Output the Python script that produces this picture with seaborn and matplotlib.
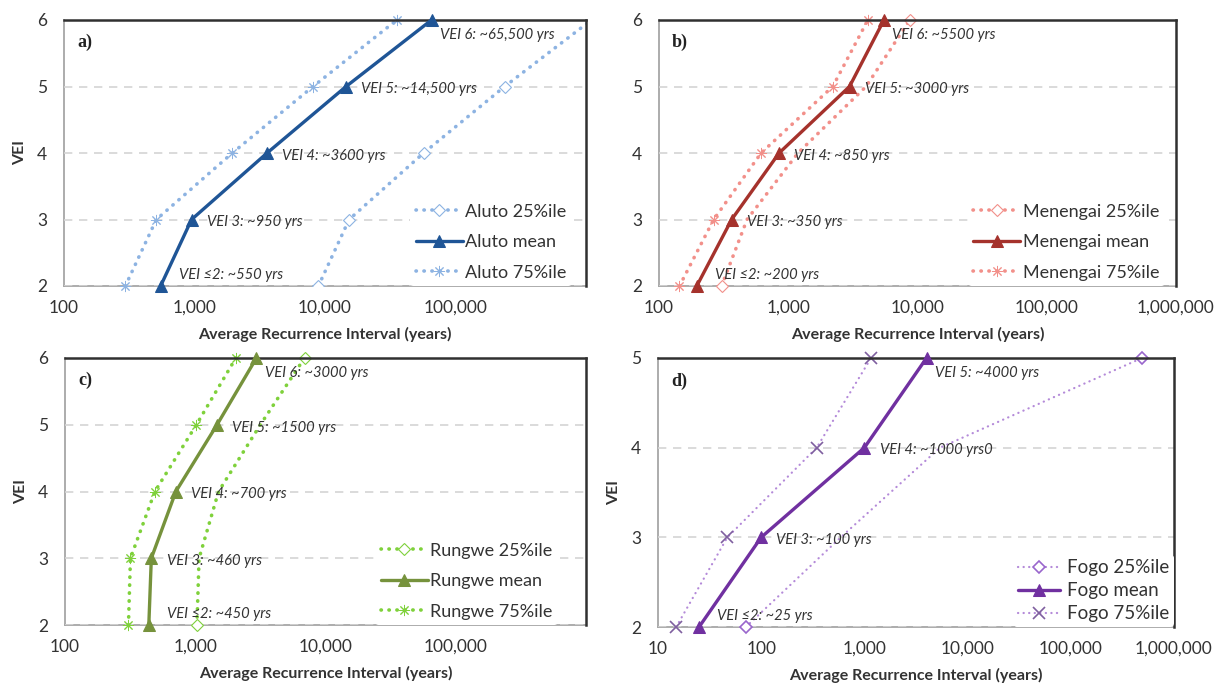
import numpy as np
import pandas as pd
import matplotlib
matplotlib.use("Agg")
import matplotlib.pyplot as plt
import matplotlib.ticker as mticker
import seaborn as sns

# VEI classes
vei = [2, 3, 4, 5, 6]
vei_fogo = [2, 3, 4, 5]

# average recurrence intervals (years)
aluto_mean = [550, 950, 3600, 14500, 65500]
aluto_p25 = [8900, 15300, 57000, 238000, 1100000]
aluto_p75 = [295, 510, 1950, 8100, 35500]

menengai_mean = [196, 365, 850, 2980, 5500]
menengai_p25 = [305, 480, 1190, 4000, 8700]
menengai_p75 = [144, 265, 617, 2210, 4130]

rungwe_mean = [440, 460, 710, 1470, 2950]
rungwe_p25 = [1030, 1070, 1510, 3160, 6900]
rungwe_p75 = [307, 318, 490, 1020, 2050]

fogo_mean = [25, 100, 1000, 4000]
fogo_p25 = [71, 590, 5400, 490000]
fogo_p75 = [15, 47, 345, 1160]

aluto_labels = ["VEI \u22642: ~550 yrs", "VEI 3: ~950 yrs", "VEI 4: ~3600 yrs",
                "VEI 5: ~14,500 yrs", "VEI 6: ~65,500 yrs"]
menengai_labels = ["VEI \u22642: ~200 yrs", "VEI 3: ~350 yrs", "VEI 4: ~850 yrs",
                   "VEI 5: ~3000 yrs", "VEI 6: ~5500 yrs"]
rungwe_labels = ["VEI \u22642: ~450 yrs", "VEI 3: ~460 yrs", "VEI 4: ~700 yrs",
                 "VEI 5: ~1500 yrs", "VEI 6: ~3000 yrs"]
fogo_labels = ["VEI \u22642: ~25 yrs", "VEI 3: ~100 yrs", "VEI 4: ~1000 yrs0",
               "VEI 5: ~4000 yrs"]

sns.set_style("white")
FONT = ["Lato", "DejaVu Sans"]
plt.rcParams["font.family"] = FONT
TXT = "#333333"

fig = plt.figure(figsize=(12.15, 6.84), dpi=100)

W, H = 1215.0, 684.0


def box(l, r, t, b):
    return [l / W, 1 - b / H, (r - l) / W, (b - t) / H]


panels = [
    dict(rect=box(64, 586, 20, 286), name="Aluto", y=vei, mean=aluto_mean, p25=aluto_p25,
         p75=aluto_p75, labels=aluto_labels, cm="#1f5596", cp="#8db3e2", letter="a)",
         xmin=100, ylab=True, fogo=False, legx=14, all25=True),
    dict(rect=box(659, 1176, 20, 286), name="Menengai", y=vei, mean=menengai_mean,
         p25=menengai_p25, p75=menengai_p75, labels=menengai_labels, cm="#a5322c",
         cp="#f2908a", letter="b)", xmin=100, ylab=False, fogo=False, legx=11, all25=False),
    dict(rect=box(65, 586, 358, 625), name="Rungwe", y=vei, mean=rungwe_mean,
         p25=rungwe_p25, p75=rungwe_p75, labels=rungwe_labels, cm="#76923c",
         cp="#7fd13b", letter="c)", xmin=100, ylab=True, fogo=False, legx=28, all25=False),
    dict(rect=box(658, 1174, 358, 627), name="Fogo", y=vei_fogo, mean=fogo_mean,
         p25=fogo_p25, p75=fogo_p75, labels=fogo_labels, cm="#7030a0",
         cp="#b48ad9", letter="d)", xmin=10, ylab=True, fogo=True, legx=0, all25=False),
]

for p in panels:
    ax = fig.add_axes(p["rect"])
    ax.set_xscale("log")
    ax.set_axisbelow(True)
    n = len(p["y"])
    every25 = None if p["all25"] else [0, n - 1]

    if p["fogo"]:
        dot_lw, dot_ls = 1.6, (0, (0.1, 2.4))
        m75 = dict(marker="x", markersize=9, markeredgewidth=1.2,
                   markeredgecolor="#7f5f9f", markerfacecolor="none")
        m25 = dict(marker="D", markersize=6, markeredgewidth=1.2,
                   markeredgecolor="#9966cc", markerfacecolor="white")
    else:
        dot_lw, dot_ls = 2.6, (0, (0.1, 2.1))
        m75 = dict(marker=(8, 2, 0), markersize=8, markeredgewidth=0.7,
                   markeredgecolor=p["cp"], markerfacecolor="none")
        m25 = dict(marker="D", markersize=6, markeredgewidth=0.8,
                   markeredgecolor=p["cp"], markerfacecolor="white")

    sns.lineplot(x=p["p25"], y=p["y"], ax=ax, sort=False, estimator=None,
                 color=p["cp"], lw=dot_lw, linestyle=dot_ls, dash_capstyle="round",
                 markevery=every25, label=p["name"] + " 25%ile",
                 clip_on=(p["name"] == "Aluto"), **m25)
    sns.lineplot(x=p["mean"], y=p["y"], ax=ax, sort=False, estimator=None,
                 color=p["cm"], lw=2.4, marker="^", markersize=9,
                 markeredgecolor=p["cm"], markerfacecolor=p["cm"],
                 label=p["name"] + " mean", clip_on=False, zorder=5)
    sns.lineplot(x=p["p75"], y=p["y"], ax=ax, sort=False, estimator=None,
                 color=p["cp"], lw=dot_lw, linestyle=dot_ls, dash_capstyle="round",
                 label=p["name"] + " 75%ile", clip_on=False, **m75)

    # data labels next to mean markers
    for i, (xv, yv, lab) in enumerate(zip(p["mean"], p["y"], p["labels"])):
        if i == 0:
            off = (13, 8)
        elif i == n - 1:
            off = (6, -11)
        else:
            off = (11, -2)
        ax.annotate(lab, xy=(xv, yv), xytext=off, textcoords="offset points",
                    ha="left", va="center", fontsize=10.6, fontstyle="italic",
                    color=TXT, family=FONT)

    ax.set_xlim(p["xmin"], 1e6)
    ax.set_ylim(p["y"][0], p["y"][-1])
    ax.set_yticks(p["y"])
    ax.xaxis.set_major_locator(mticker.LogLocator(base=10, numticks=10))
    ax.xaxis.set_minor_locator(mticker.NullLocator())
    if p["xmin"] == 100 and p["name"] != "Menengai":
        fmt = lambda v, pos: "" if v >= 1e6 else "{:,.0f}".format(v)
    else:
        fmt = lambda v, pos: "{:,.0f}".format(v)
    ax.xaxis.set_major_formatter(mticker.FuncFormatter(fmt))

    ax.yaxis.grid(True, linestyle=(0, (5, 4)), color="#d4d4d4", lw=1.2)
    ax.xaxis.grid(False)

    for side in ["top", "right"]:
        ax.spines[side].set_color("#303030")
        ax.spines[side].set_linewidth(1.8)
    for side in ["left", "bottom"]:
        ax.spines[side].set_color("#a6a6a6")
        ax.spines[side].set_linewidth(1.3)
        ax.spines[side].set_zorder(0)

    ax.tick_params(axis="both", direction="out", length=4, width=1.0,
                   color="#a6a6a6", labelsize=12.5, labelcolor=TXT)
    ax.tick_params(axis="x", pad=6)
    ax.tick_params(axis="y", pad=8)

    ax.set_xlabel("Average Recurrence Interval (years)", fontsize=11.5,
                  fontweight="bold", color=TXT, labelpad=8)
    if p["ylab"]:
        ax.set_ylabel("VEI", fontsize=11.5, fontweight="bold", color=TXT, labelpad=7)
    else:
        ax.set_ylabel("")

    ax.text(0.025, 0.915, p["letter"], transform=ax.transAxes, fontsize=13,
            fontweight="bold", family="Liberation Serif", color="#222222",
            va="center", ha="left")

    axw = p["rect"][2] * W
    anchor = (1 - p["legx"] / axw, 0)
    if p["fogo"]:
        leg = ax.legend(loc="lower right", bbox_to_anchor=anchor, fontsize=13.5,
                        frameon=True, handlelength=2.2, handletextpad=0.4,
                        labelspacing=0.32, borderaxespad=0, borderpad=0.25)
    else:
        leg = ax.legend(loc="lower right", bbox_to_anchor=anchor, fontsize=13,
                        frameon=True, handlelength=2.6, handletextpad=0.15,
                        labelspacing=0.8, borderaxespad=0, borderpad=0.3)
    leg.get_frame().set_facecolor("white")
    leg.get_frame().set_edgecolor("none")
    leg.get_frame().set_alpha(1)
    for t in leg.get_texts():
        t.set_color(TXT)

fig.savefig("out.png", dpi=100)
